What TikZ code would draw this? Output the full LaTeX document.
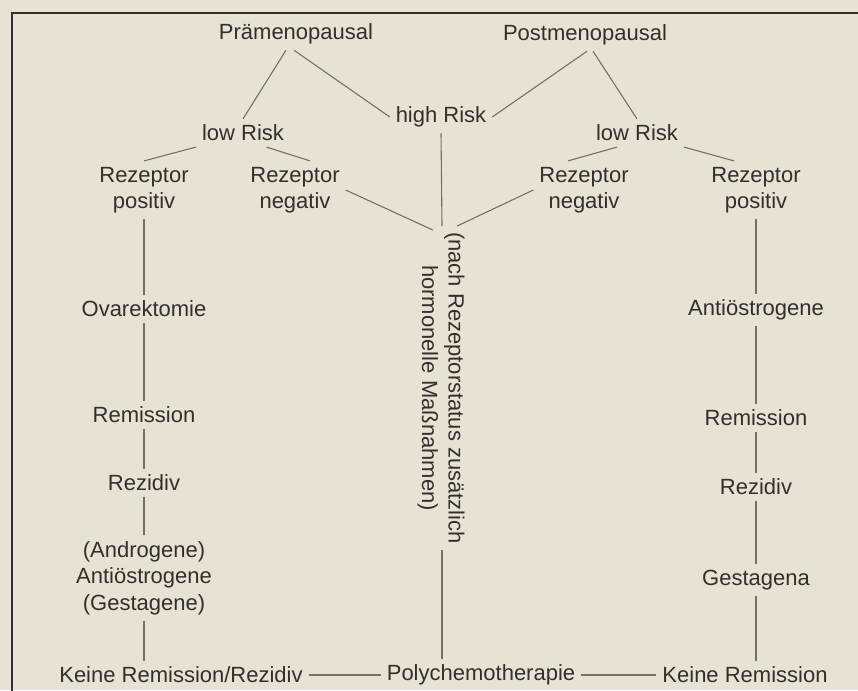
\documentclass[tikz,border=0pt]{standalone}
\usepackage{fontspec}
\setmainfont{Liberation Sans}
\usepackage{tikz}
\usetikzlibrary{positioning,calc}
\definecolor{paper}{RGB}{230,227,212}
\definecolor{ink}{RGB}{50,47,44}
\definecolor{rule}{RGB}{115,112,105}

\begin{document}
\begin{tikzpicture}[x=1pt,y=-1pt,
  lab/.style={font=\fontsize{22}{26.5}\selectfont,text=ink,align=center,inner sep=2pt,outer sep=4pt},
  con/.style={draw=rule,line width=1.1pt},
  frame/.style={draw=ink,line width=2.6pt}]
\fill[paper] (0,0) rectangle (858,690);
\useasboundingbox (0,0) rectangle (858,690);
\draw[frame] (860,13) -| (12,692);
% menopausal status and risk
\node[lab] (pre)  at (296,34)  {Prämenopausal};
\node[lab] (post) at (585,35)  {Postmenopausal};
\node[lab] (high) at (441,117) {high Risk};
\node[lab] (lowL) at (243,133) {low Risk};
\node[lab] (lowR) at (637,133) {low Risk};
% receptor status
\node[lab] (recposL) at (144,190) {Rezeptor\\positiv};
\node[lab] (recnegL) at (295,190) {Rezeptor\\negativ};
\node[lab] (recnegR) at (584,190) {Rezeptor\\negativ};
\node[lab] (recposR) at (756,190) {Rezeptor\\positiv};
\node[lab,rotate=-90,align=center] (note) at (441,388) {(nach Rezeptorstatus zusätzlich\\hormonelle Maßnahmen)};
% left column: praemenopausal, receptor positive
\node[lab] (ovar) at (144,309) {Ovarektomie};
\node[lab] (remL) at (144,415) {Remission};
\node[lab] (rezL) at (144,483) {Rezidiv};
\node[lab] (hormL) at (144,578) {(Androgene)\\Antiöstrogene\\(Gestagene)};
% right column: postmenopausal, receptor positive
\node[lab] (antiR) at (756,310) {Antiöstrogene};
\node[lab] (remR)  at (756,418) {Remission};
\node[lab] (rezR)  at (756,487) {Rezidiv};
\node[lab] (gest)  at (756,580) {Gestagena};
% bottom row
\node[lab] (keineL) at (181,675) {Keine Remission/Rezidiv};
\node[lab] (poly)   at (481,675) {Polychemotherapie};
\node[lab] (keineR) at (745,675) {Keine Remission};
% connectors, top part
\draw[con] ([xshift=-10pt]pre.south) -- (lowL.north);
\draw[con] ([xshift=-2pt]pre.south) -- (high.west);
\draw[con] ([xshift=2pt]post.south) -- (high.east);
\draw[con] ([xshift=8pt]post.south) -- (lowR.north);
\draw[con] (lowL.south west) -- (recposL.north);
\draw[con] ($(lowL.south)!0.5!(lowL.south east)$) -- ([xshift=15pt]recnegL.north);
\draw[con] ([xshift=-20pt]lowR.south) -- ([xshift=-16pt]recnegR.north);
\draw[con] (lowR.south east) -- ([xshift=-22pt]recposR.north);
\draw[con] (high.south) -- ([xshift=1pt]note.west);
\draw[con] (recnegL.east) -- ([xshift=-8pt,yshift=-4pt]note.west);
\draw[con] (recnegR.west) -- ([xshift=16pt]note.west);
\draw[con] ([xshift=1pt]note.east) -- ([xshift=1pt]note.east |- poly.north);
% connectors, columns
\draw[con] (recposL) -- (ovar);
\draw[con] (ovar) -- (remL);
\draw[con] (remL) -- (rezL);
\draw[con] (rezL) -- (hormL);
\draw[con] (hormL.south) -- (hormL.south |- keineL.north);
\draw[con] (recposR) -- (antiR);
\draw[con] (antiR) -- (remR);
\draw[con] (remR) -- (rezR);
\draw[con] (rezR) -- (gest);
\draw[con] (gest.south) -- (gest.south |- keineR.north);
% bottom row
\draw[con] (keineL) -- (poly);
\draw[con] (poly) -- (keineR);
\end{tikzpicture}
\end{document}
